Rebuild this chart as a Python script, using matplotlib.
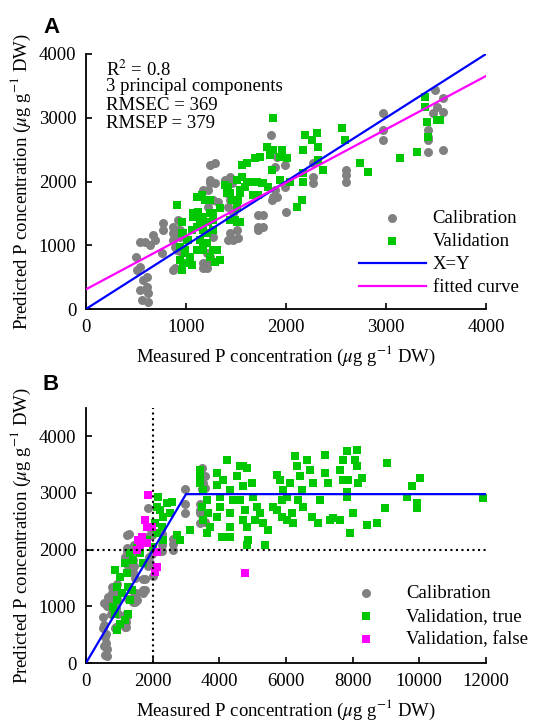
import matplotlib
matplotlib.use("Agg")
import matplotlib.pyplot as plt
import numpy as np

plt.rcParams['font.family'] = ['Liberation Serif', 'DejaVu Serif']
plt.rcParams['mathtext.fontset'] = 'stix'

# panel A - calibration set (also used in panel B)
cal_x = [540, 500, 540, 607, 540, 623, 557, 623, 573, 607, 507, 590, 640, 673, 690,
         773, 773, 757, 873, 873, 890, 873, 940, 957, 923,
         1173, 1173, 1240, 1240, 1240, 1173, 1223, 1273, 1207, 1240,
         1390, 1407, 1423, 1440, 1473, 1423, 1473, 1440,
         1717, 1717, 1723, 1847, 1873, 1857, 1907, 1890, 1993, 1993, 2000,
         2273, 2273, 2273, 2597, 2597, 2597, 2973, 2973, 2973,
         3423, 3423, 3423, 3490, 3473, 3573, 3573, 3573, 3507, 3423,
         1290, 1290, 1223, 1440, 1457, 1323, 907, 940, 873, 907, 890, 1207, 1207,
         1507, 1523, 1773, 1773, 1890, 1907, 1273]
cal_y = [1056, 820, 664, 507, 298, 246, 141, 115, 455, 350, 612, 1056, 1004, 1160, 1082,
         1344, 1240, 873, 1291, 1187, 978, 612, 1240, 873, 1396,
         716, 638, 2259, 2024, 1971, 1867, 1605, 1710, 873, 821,
         2024, 1815, 1605, 1187, 1082, 1082, 1500, 1710,
         1475, 1291, 1240, 2730, 1762, 1710, 2390, 2233, 2259, 1919, 1527,
         2285, 2076, 1971, 2180, 2102, 1997, 3069, 2808, 2651,
         2468, 2651, 2808, 3435, 3069, 3305, 3095, 2494, 3174, 2703,
         2285, 1971, 1867, 2076, 1971, 1683, 1239, 1134, 1082, 925, 638, 716, 638,
         1239, 1109, 1474, 1291, 1867, 1762, 1134]

# panel A - validation set
val_x = [907, 957, 957, 940, 940, 957, 973, 1023, 990, 1007, 1057, 1073, 1107, 1140,
         1107, 1173, 1107, 1190, 1240, 1273, 1273, 1290, 1207, 1140, 1223, 1173, 1273,
         1390, 1407, 1440, 1507, 1523, 1507, 1557, 1540, 1607, 1690, 1707, 1673, 1773,
         1823, 1807, 1857, 1873, 1873, 1940, 1957, 2007, 1940, 2040, 2107, 2157, 2173,
         2173, 2173, 2190, 2257, 2307, 2323, 2323, 2373, 2557, 2590, 2740, 2823, 3140,
         3307, 3390, 3390, 3407, 3423, 3507, 3540,
         1157, 1240, 1123, 1173, 1273, 1340, 1423, 1440, 1457, 1507, 1490, 1540, 1557,
         1607, 1640, 1590, 1540, 1740, 1840, 1757, 1723, 973, 1023, 990, 1040, 973,
         1057, 1140, 1173, 1240, 1307, 1340, 1173, 1207, 1073]
val_y = [1631, 1370, 1187, 978, 769, 612, 716, 716, 873, 1082, 1240, 1500, 1291, 1082,
         925, 952, 1762, 1710, 1500, 1240, 925, 742, 1187, 1396, 1370, 1240, 1396,
         1945, 1815, 1396, 1370, 1710, 2024, 2259, 1867, 1997, 2364, 1997, 1789, 1971,
         1919, 2547, 2180, 2991, 2494, 2390, 2494, 2364, 2024, 1997, 1605, 1710, 2128,
         1997, 2494, 2730, 2651, 2756, 2547, 2337, 2180, 2834, 2651, 2285, 2154, 2364,
         2468, 3331, 3174, 2939, 2703, 2965, 2965,
         1788, 1710, 1527, 1448, 1501, 1579, 1919, 1815, 1710, 1579, 1396, 1370, 2076,
         2285, 1997, 1919, 1815, 2389, 2416, 1971, 1788, 1187, 1082, 925, 820, 716,
         690, 1082, 925, 820, 925, 768, 1291, 1030, 1448]

fit_x = [0, 4000]
fit_y = [309, 3655]

# panel B - validation, classified true / false
true_x = [920, 1020, 870, 820, 920, 1070, 920, 870, 1020, 1220, 1170, 1320, 1420, 1270,
          1320, 1270, 1170, 1370, 1520, 1620, 1720, 1820, 2070, 2120, 2220, 2320, 2420,
          2570, 2520, 2720, 2820, 2120, 2020, 2270, 2320, 2170,
          3420, 3420, 3420, 3520, 3620, 3470, 3670, 3520, 3720, 3620, 3120, 3920, 3920,
          4020, 4020, 3920, 4070, 4220, 4120, 4320, 4420, 4320, 4320, 4320, 4520, 4620,
          4720, 4820, 4720, 4620, 4770, 4720, 4820, 4870, 4820, 4970, 5020, 5120, 5070,
          5220, 5320, 5370, 5470, 5620, 5720, 5820, 5920, 5870, 5720, 5870, 6020, 6220,
          6170, 6120, 6020, 6270, 6320, 6420, 6470, 6370, 6520, 6620, 6720, 6820, 6770,
          6970, 7020, 7170, 7170, 7270, 7320, 7420, 7620, 7620, 7720, 7820, 7870, 7820,
          7920, 8020, 8070, 8120, 8120, 8170, 8270, 8420, 8720, 8970, 9020, 9620, 9770,
          9920, 9920, 10020, 11920, 7720, 7820]
true_y = [578, 696, 873, 991, 1109, 1227, 1345, 1640, 1522, 1581, 1758, 1935, 1817, 1345,
          1109, 873, 755, 1286, 2053, 1935, 1758, 2171, 2466, 2761, 2702, 2584, 2820,
          2850, 2643, 2260, 2171, 2289, 2053, 2407, 2171, 2938,
          3410, 3292, 3174, 3056, 2879, 2761, 2643, 2525, 2407, 2289, 2348, 3351, 3144,
          2938, 2761, 2584, 2230, 3587, 3233, 3056, 2879, 2643, 2407, 2230, 3292, 3469,
          3469, 3440, 3115, 2879, 2702, 2525, 2407, 2171, 2083, 3174, 2938, 2761, 2525,
          2643, 2466, 2083, 2348, 2761, 3322, 3233, 3056, 2879, 2702, 2584, 2525, 2466,
          2643, 3174, 2938, 3646, 3469, 3292, 3056, 2879, 2761, 3587, 3410, 3174, 2584,
          2466, 2879, 3676, 3351, 3174, 2525, 2555, 2525, 3410, 3587, 3735, 3233, 2938,
          2289, 2643, 3587, 3764, 3469, 3174, 3262, 2437, 2466, 2732, 3528, 2938, 3115,
          2820, 2732, 3262, 2909, 3233, 3026]
false_x = [1850, 1770, 1820, 1670, 1570, 1620, 1520, 1820, 1970, 2120, 2120, 2070, 4770]
false_y = [2968, 2525, 2407, 2230, 2171, 2083, 1994, 2112, 2407, 1965, 1699, 1611, 1593]

seg_x = [0, 3000, 12000]
seg_y = [0, 2980, 2980]
threshold = 2000

gray = '#808080'
green = '#00C800'
magenta = '#FF00FF'
blue = '#0000FF'
ylabel = r'Predicted P concentration ($\mu$g g$^{-1}$ DW)'
xlabel = r'Measured P concentration ($\mu$g g$^{-1}$ DW)'
fs = 13.5

fig = plt.figure(figsize=(5.34, 7.23), dpi=100)
axA = fig.add_axes([86/534, 1 - 309/723, 400/534, 255/723])
axB = fig.add_axes([86/534, 1 - 663/723, 400/534, 255/723])

for ax in (axA, axB):
    ax.spines['top'].set_visible(False)
    ax.spines['right'].set_visible(False)
    ax.spines['left'].set_linewidth(1.3)
    ax.spines['bottom'].set_linewidth(1.3)
    ax.tick_params(direction='in', length=4, width=1.2, labelsize=fs, pad=7)
    ax.set_ylabel(ylabel, fontsize=fs, labelpad=4)
    ax.set_xlabel(xlabel, fontsize=fs, labelpad=6)

# ---- A ----
axA.scatter(cal_x, cal_y, s=42, marker='o', color=gray, linewidths=0, label='Calibration', zorder=2)
axA.scatter(val_x, val_y, s=36, marker='s', color=green, linewidths=0, label='Validation', zorder=3)
axA.plot([0, 4000], [0, 4000], color=blue, lw=1.6, label='X=Y', zorder=4)
axA.plot(fit_x, fit_y, color=magenta, lw=1.6, label='fitted curve', zorder=4)
axA.set_xlim(0, 4000)
axA.set_ylim(0, 4000)
axA.set_xticks([0, 1000, 2000, 3000, 4000])
axA.set_yticks([0, 1000, 2000, 3000, 4000])
axA.legend(loc='lower right', bbox_to_anchor=(1.1, 0.02), frameon=False, fontsize=fs,
           handlelength=3.6, handletextpad=0.35, labelspacing=0.32, borderaxespad=0)

stats = [r'R$^2$ = 0.8', '3 principal components', 'RMSEC = 369', 'RMSEP = 379']
for i, s in enumerate(stats):
    axA.text(0.05, [0.937, 0.871, 0.798, 0.727][i], s, transform=axA.transAxes,
             fontsize=fs, va='center', ha='left')

# ---- B ----
axB.scatter(cal_x, cal_y, s=42, marker='o', color=gray, linewidths=0, label='Calibration', zorder=2)
axB.scatter(true_x, true_y, s=36, marker='s', color=green, linewidths=0, label='Validation, true', zorder=3)
axB.scatter(false_x, false_y, s=36, marker='s', color=magenta, linewidths=0, label='Validation, false', zorder=3)
axB.plot(seg_x, seg_y, color=blue, lw=1.6, zorder=4)
axB.axvline(threshold, color='k', ls=':', lw=1.5, zorder=5)
axB.axhline(threshold, color='k', ls=':', lw=1.5, zorder=5)
axB.set_xlim(0, 12000)
axB.set_ylim(0, 4500)
axB.set_xticks(np.arange(0, 12001, 2000))
axB.set_yticks([0, 1000, 2000, 3000, 4000])
axB.legend(loc='lower right', bbox_to_anchor=(1.125, 0.03), frameon=False, fontsize=fs,
           handlelength=3.6, handletextpad=0.35, labelspacing=0.3, borderaxespad=0)

fig.text(43/534, 1 - 33/723, 'A', fontsize=16, fontweight='bold', family='Liberation Sans')
fig.text(43/534, 1 - 390/723, 'B', fontsize=16, fontweight='bold', family='Liberation Sans')

fig.savefig('out.png', dpi=100)
